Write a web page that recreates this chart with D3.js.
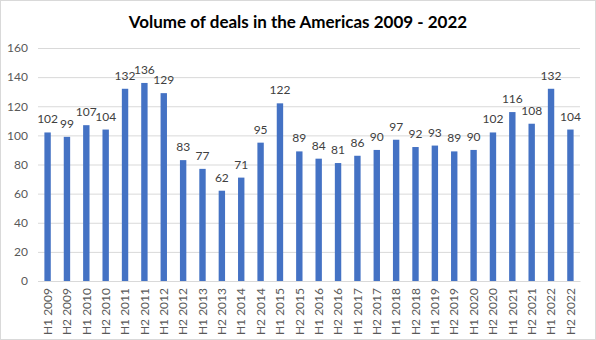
<!DOCTYPE html>
<html><head><meta charset="utf-8">
<script src="https://cdn.jsdelivr.net/npm/d3@7"></script>
<style>
html,body{margin:0;padding:0;background:#fff;}
svg{display:block;}
</style></head>
<body>
<svg id="chart" width="596" height="340"></svg>
<script>
const categories = ["H1 2009","H2 2009","H1 2010","H2 2010","H1 2011","H2 2011","H1 2012","H2 2012","H1 2013","H2 2013","H1 2014","H2 2014","H1 2015","H2 2015","H1 2016","H2 2016","H1 2017","H2 2017","H1 2018","H2 2018","H1 2019","H2 2019","H1 2020","H2 2020","H1 2021","H2 2021","H1 2022","H2 2022"];
const values = [102,99,107,104,132,136,129,83,77,62,71,95,122,89,84,81,86,90,97,92,93,89,90,102,116,108,132,104];
const yTicks = [0,20,40,60,80,100,120,140,160];
const title = "Volume of deals in the Americas 2009 - 2022";

const svg = d3.select("#chart");
const W = 596, H = 340;
const m = {left:38, right:16, top:48, bottom:59};
const font = "Lato, 'Open Sans', sans-serif";

svg.append("rect").attr("x",0.5).attr("y",0.5).attr("width",W-1).attr("height",H-1)
  .attr("fill","#fff").attr("stroke","#d9d9d9");

svg.append("text").attr("x",W/2).attr("y",28).attr("text-anchor","middle")
  .attr("font-family",font).attr("font-weight","bold").attr("font-size",17)
  .attr("fill","#000").text(title);

const x = d3.scaleBand().domain(categories).range([m.left, W-m.right]).paddingInner(0.67).paddingOuter(0.33);
const y = d3.scaleLinear().domain([0,160]).range([H-m.bottom, m.top]);

// gridlines
const yAxis = d3.axisLeft(y).tickValues(yTicks).tickSize(-(W-m.right-m.left)).tickPadding(10);
const gy = svg.append("g").attr("transform",`translate(${m.left},0)`).call(yAxis);
gy.select(".domain").remove();
gy.selectAll(".tick line").attr("stroke","#d9d9d9").attr("stroke-width",1);
gy.selectAll(".tick text").attr("font-family",font).attr("font-size",12).attr("fill","#595959");

// bars
svg.append("g").selectAll("rect").data(values).join("rect")
  .attr("x",(d,i)=>x(categories[i]))
  .attr("y",d=>y(d))
  .attr("width",x.bandwidth())
  .attr("height",d=>y(0)-y(d))
  .attr("fill","#4472C4");

// labels
svg.append("g").selectAll("text").data(values).join("text")
  .attr("x",(d,i)=>x(categories[i])+x.bandwidth()/2)
  .attr("y",d=>y(d)-9)
  .attr("text-anchor","middle")
  .attr("font-family",font).attr("font-size",12).attr("fill","#404040")
  .text(d=>d);

// x axis
const xAxis = d3.axisBottom(x).tickSize(0).tickPadding(0);
const gx = svg.append("g").attr("transform",`translate(0,${y(0)})`).call(xAxis);
gx.select(".domain").attr("stroke","#d9d9d9");
gx.selectAll(".tick text")
  .attr("font-family",font).attr("font-size",12).attr("fill","#595959")
  .attr("transform","rotate(-90)")
  .attr("text-anchor","end")
  .attr("x",-7).attr("y",0).attr("dy","0.35em");
</script>
</body></html>
